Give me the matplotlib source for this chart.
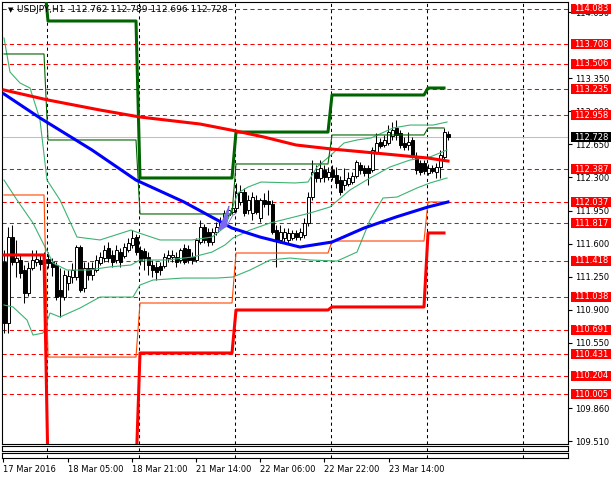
import matplotlib
matplotlib.use('Agg')
import matplotlib.pyplot as plt
from matplotlib.patches import Rectangle, Polygon

# ---------------- data ----------------
symbol_header = "USDJPY,H1  112.762 112.789 112.696 112.728"

opens = [111.406,110.760,111.670,111.406,111.427,111.321,111.078,111.342,111.406,111.427,
111.395,111.437,111.406,111.374,111.110,111.035,111.184,111.247,111.247,111.564,
111.131,111.342,111.268,111.321,111.395,111.448,111.554,111.480,111.427,111.511,
111.469,111.533,111.586,111.670,111.533,111.522,111.459,111.374,111.353,111.363,
111.363,111.448,111.459,111.459,111.427,111.554,111.543,111.459,111.427,111.617,
111.776,111.723,111.617,111.723,111.776,111.850,111.903,111.935,111.977,112.041,
112.146,111.956,111.924,112.062,111.871,112.062,112.051,112.019,111.744,111.639,
111.660,111.639,111.660,111.713,111.670,111.691,111.818,112.093,112.358,112.295,
112.379,112.305,112.379,112.326,112.273,112.220,112.231,112.252,112.316,112.432,
112.400,112.400,112.379,112.570,112.676,112.644,112.665,112.739,112.824,112.771,
112.665,112.644,112.697,112.517,112.453,112.453,112.348,112.400,112.358,112.411,
112.517,112.762]
highs = [111.533,111.776,111.797,111.639,111.480,111.374,111.406,111.533,111.533,111.480,
111.511,111.511,111.448,111.406,111.342,111.321,111.321,111.395,111.586,111.586,
111.406,111.406,111.406,111.480,111.511,111.586,111.617,111.533,111.586,111.554,
111.607,111.660,111.744,111.702,111.575,111.554,111.511,111.427,111.406,111.406,
111.501,111.533,111.533,111.511,111.554,111.596,111.586,111.511,111.660,111.850,
111.808,111.765,111.765,111.829,111.882,111.956,111.998,112.030,112.242,112.220,
112.189,112.115,112.146,112.115,112.083,112.136,112.168,112.062,111.797,111.797,
111.765,111.765,111.744,111.744,111.765,111.871,112.146,112.485,112.432,112.485,
112.432,112.411,112.432,112.411,112.316,112.400,112.358,112.358,112.485,112.464,
112.432,112.432,112.623,112.771,112.718,112.750,112.855,112.887,112.908,112.803,
112.728,112.781,112.728,112.570,112.485,112.485,112.443,112.432,112.453,112.591,
112.824,112.789]
lows = [110.654,110.654,111.374,111.247,111.236,110.972,111.046,111.321,111.363,111.321,
111.342,111.342,111.258,111.004,110.824,111.004,111.110,111.184,111.215,111.088,
111.088,111.215,111.215,111.300,111.374,111.406,111.406,111.353,111.395,111.353,
111.448,111.511,111.554,111.480,111.374,111.321,111.268,111.247,111.215,111.268,
111.342,111.406,111.406,111.353,111.395,111.384,111.395,111.384,111.406,111.596,
111.607,111.575,111.586,111.691,111.755,111.829,111.871,111.914,111.935,112.009,
111.892,111.914,111.850,111.914,111.829,111.988,111.903,111.702,111.353,111.607,
111.617,111.607,111.639,111.639,111.639,111.660,111.787,112.062,112.252,112.252,
112.252,112.273,112.273,112.189,112.115,112.168,112.210,112.231,112.295,112.337,
112.316,112.220,112.358,112.549,112.612,112.623,112.644,112.697,112.697,112.612,
112.591,112.591,112.506,112.337,112.326,112.337,112.326,112.348,112.295,112.295,
112.485,112.696]
closes = [110.760,111.670,111.406,111.448,111.289,111.078,111.342,111.427,111.437,111.384,
111.437,111.395,111.353,111.035,111.046,111.268,111.258,111.321,111.564,111.110,
111.342,111.268,111.342,111.427,111.459,111.533,111.448,111.406,111.533,111.406,
111.564,111.607,111.660,111.511,111.427,111.448,111.374,111.321,111.300,111.321,
111.459,111.480,111.480,111.406,111.533,111.406,111.427,111.427,111.639,111.776,
111.639,111.617,111.723,111.776,111.829,111.924,111.956,111.977,112.136,112.146,
111.924,112.062,112.093,111.935,112.062,112.019,112.019,111.723,111.639,111.723,
111.723,111.713,111.713,111.670,111.723,111.818,112.093,112.358,112.295,112.400,
112.305,112.358,112.305,112.242,112.146,112.273,112.295,112.316,112.464,112.379,
112.348,112.348,112.591,112.665,112.633,112.697,112.781,112.803,112.750,112.644,
112.623,112.676,112.538,112.379,112.358,112.369,112.400,112.369,112.411,112.538,
112.781,112.728]

# moving averages (bar index, price)
red_ma_x = [0, 11, 24, 34, 49, 58, 65, 73, 82, 90, 98, 106, 111]
red_ma_y = [113.226, 113.120, 113.014, 112.940, 112.866, 112.792, 112.728, 112.644,
            112.601, 112.570, 112.538, 112.506, 112.474]
blue_ma_x = [0, 9, 22, 33, 45, 57, 64, 74, 82, 90, 98, 106, 111]
blue_ma_y = [113.184, 112.930, 112.591, 112.273, 112.041, 111.765, 111.670, 111.564,
             111.617, 111.765, 111.882, 111.988, 112.041]

# Bollinger bands (bar index, price)
bb_up_x = [0, 1.5, 4, 6.5, 8.25, 9, 10.75, 14, 18.25, 24, 31.75, 33.75, 39, 47, 52, 55.25,
           58.5, 61, 64.25, 72.75, 76, 78.25, 81.75, 85, 88.25, 91.75, 97.25, 101.5, 107.25, 110.75]
bb_up_y = [113.776, 113.416, 113.300, 113.247, 113.014, 112.908, 112.273, 112.062, 111.670,
           111.639, 111.744, 111.713, 111.639, 111.639, 111.670, 111.776, 112.136, 112.199,
           112.252, 112.242, 112.252, 112.411, 112.538, 112.665, 112.697, 112.718, 112.824,
           112.855, 112.855, 112.887]
bb_mid_x = [0, 3.25, 7.25, 9.75, 12.25, 15.75, 21.25, 26.25, 31.75, 34, 40.75, 47.25, 52,
            55.25, 57.25, 61.5, 66.5, 71.5, 76.5, 81.5, 86.5, 91.5, 96.5, 101.5, 106.5, 110.75]
bb_mid_y = [112.273, 112.062, 111.818, 111.607, 111.395, 111.321, 111.321, 111.353, 111.374,
            111.427, 111.427, 111.459, 111.511, 111.586, 111.660, 111.744, 111.818, 111.871,
            111.924, 111.988, 112.168, 112.295, 112.411, 112.485, 112.517, 112.591]
bb_lo_x = [0, 2.25, 5.75, 7.25, 9.75, 11.5, 14, 19, 24, 32.25, 34, 37.25, 44.75, 53.25,
           57.25, 61.5, 66.5, 71.5, 76.5, 83.25, 88.25, 91.5, 94.75, 98.25, 103.25, 106.5, 110.75]
bb_lo_y = [110.951, 110.930, 110.792, 110.633, 110.654, 110.866, 110.824, 110.919, 111.035,
           111.035, 111.162, 111.215, 111.236, 111.236, 111.247, 111.321, 111.427, 111.448,
           111.427, 111.416, 111.511, 111.850, 112.083, 112.093, 112.189, 112.242, 112.295]

# daily step levels
day_starts = [0, 11, 34, 58, 82, 106]
day_ends = [10, 33, 57, 81, 105, 110]
lvl_green_thick = [114.400, 113.956, 112.295, 112.781, 113.173, 113.247]
lvl_green_thin = [113.607, 112.697, 111.914, 112.443, 112.750, 112.824]
lvl_orange = [112.115, 110.400, 110.972, 111.501, 111.628, 112.041]
lvl_red_thick = [111.480, 109.200, 110.443, 110.898, 110.930, 111.713]

# horizontal dashed levels
h_levels = [114.083, 113.708, 113.506, 113.235, 112.958, 112.387, 112.037, 111.817,
            111.418, 111.038, 110.691, 110.431, 110.204, 110.005]
bid_price = 112.728

# price axis ticks (those fully hidden behind level labels omitted)
price_ticks = [109.510, 109.860, 110.550, 110.900, 111.250, 111.600, 111.950,
               112.300, 112.650, 113.000, 113.350, 114.050]

# time axis
time_pos = [-0.25, 16, 32, 48, 64, 80, 96.25]
time_labels = ["17 Mar 2016", "18 Mar 05:00", "18 Mar 21:00", "21 Mar 14:00",
               "22 Mar 06:00", "22 Mar 22:00", "23 Mar 14:00"]
grid_x = [10.75, 33.75, 57.75, 81.75, 105.75, 129.75]

# ---------------- drawing ----------------
W, H = 611, 479
fig = plt.figure(figsize=(W / 100, H / 100), dpi=100)
fig.patch.set_facecolor('white')
FONT = 'DejaVu Sans'


def px_axes(x0, y0, x1, y1):
    return fig.add_axes([x0 / W, 1 - y1 / H, (x1 - x0) / W, (y1 - y0) / H])


XL = (-0.5, 141)
ax = px_axes(2, 2, 568, 444)
ax.set_xlim(*XL)
ax.set_ylim(109.480, 114.157)
for s in ax.spines.values():
    s.set_linewidth(0.8)
    s.set_color('black')

for gx in grid_x:
    ax.axvline(gx, color='black', lw=0.75, ls=(0, (3, 3)), zorder=1)
for lv in h_levels:
    ax.axhline(lv, color='red', lw=0.75, ls=(0, (4, 3)), zorder=1)
ax.axhline(bid_price, color='#C0C0C0', lw=0.75, zorder=1)

bw = 0.75
for i, (o, h, l, c) in enumerate(zip(opens, highs, lows, closes)):
    ax.vlines(i, l, h, color='black', lw=0.75, zorder=2)
    lo, hi = min(o, c), max(o, c)
    if hi - lo < 0.004:
        ax.hlines((o + c) / 2, i - bw / 2, i + bw / 2, color='black', lw=0.75, zorder=2.1)
    else:
        ax.add_patch(Rectangle((i - bw / 2, lo), bw, hi - lo,
                               facecolor='white' if c > o else 'black',
                               edgecolor='black', lw=0.7, zorder=2.1))


def steps(vals):
    xs, ys = [], []
    for s, e, v in zip(day_starts, day_ends, vals):
        xs += [s, e]
        ys += [v, v]
    return xs, ys


band_c = '#3CB371'
ax.plot(bb_up_x, bb_up_y, color=band_c, lw=0.8, zorder=3)
ax.plot(bb_mid_x, bb_mid_y, color=band_c, lw=0.8, zorder=3)
ax.plot(bb_lo_x, bb_lo_y, color=band_c, lw=0.8, zorder=3)

x, y = steps(lvl_green_thin)
ax.plot(x, y, color='#006400', lw=0.8, zorder=3)
x, y = steps(lvl_orange)
ax.plot(x, y, color='#FF4500', lw=0.8, zorder=3)
x, y = steps(lvl_green_thick)
ax.plot(x, y, color='#006400', lw=2.2, zorder=3.2)
x, y = steps(lvl_red_thick)
ax.plot(x, y, color='#FF0000', lw=2.2, zorder=3.2)

ax.plot(red_ma_x, red_ma_y, color='#FF0000', lw=2.2, zorder=3.3)
ax.plot(blue_ma_x, blue_ma_y, color='#0000FF', lw=2.2, zorder=3.3)

ax.add_patch(Polygon([(53.5, 111.74), (56.3, 112.00), (55.6, 111.78)], closed=True,
                     facecolor='#7B68EE', edgecolor='#7B68EE', lw=0.6, zorder=3.4))
ax.plot([55.6, 57.2, 58.0], [111.78, 111.90, 111.92], color='#7B68EE', lw=0.6, zorder=3.4)

ax.yaxis.tick_right()
ax.set_yticks(price_ticks)
ax.set_yticklabels([f"{t:.3f}" for t in price_ticks], fontsize=6, family=FONT)
ax.tick_params(axis='y', direction='out', length=3, width=0.8, pad=2, colors='black')
ax.set_xticks([])

ytr = ax.get_yaxis_transform()
box_h = 10 / 94.5
for lv in h_levels:
    ax.add_patch(Rectangle((1.005, lv - box_h / 2), 0.08, box_h, transform=ytr,
                           facecolor='red', edgecolor='none', clip_on=False, zorder=5))
    ax.text(1.0105, lv, f"{lv:.3f}", transform=ytr, fontsize=6, family=FONT,
            color='white', va='center', ha='left', zorder=6, clip_on=False)
ax.add_patch(Rectangle((1.005, bid_price - box_h / 2), 0.08, box_h, transform=ytr,
                       facecolor='black', edgecolor='none', clip_on=False, zorder=5))
ax.text(1.0105, bid_price, f"{bid_price:.3f}", transform=ytr, fontsize=6, family=FONT,
        color='white', va='center', ha='left', zorder=6, clip_on=False)

fig.text(8 / W, 1 - 10 / H, "\u25BC", fontsize=5, family=FONT, va='center', ha='left')
fig.text(17 / W, 1 - 10 / H, symbol_header, fontsize=6.5, family=FONT, va='center', ha='left')

p1 = px_axes(2, 446, 568, 451)
p2 = px_axes(2, 453, 568, 458)
for p in (p1, p2):
    p.set_xlim(*XL)
    p.set_ylim(0, 1)
    p.set_yticks([])
    for s in p.spines.values():
        s.set_linewidth(0.8)
    for gx in grid_x:
        p.axvline(gx, color='black', lw=0.75, ls=(0, (3, 3)))
p1.set_xticks([])
p2.set_xticks(time_pos)
p2.set_xticklabels(time_labels, fontsize=6, family=FONT)
for lab in p2.get_xticklabels():
    lab.set_ha('left')
p2.tick_params(axis='x', direction='out', length=3, width=0.8, pad=2)

fig.savefig('out.png', dpi=100)
